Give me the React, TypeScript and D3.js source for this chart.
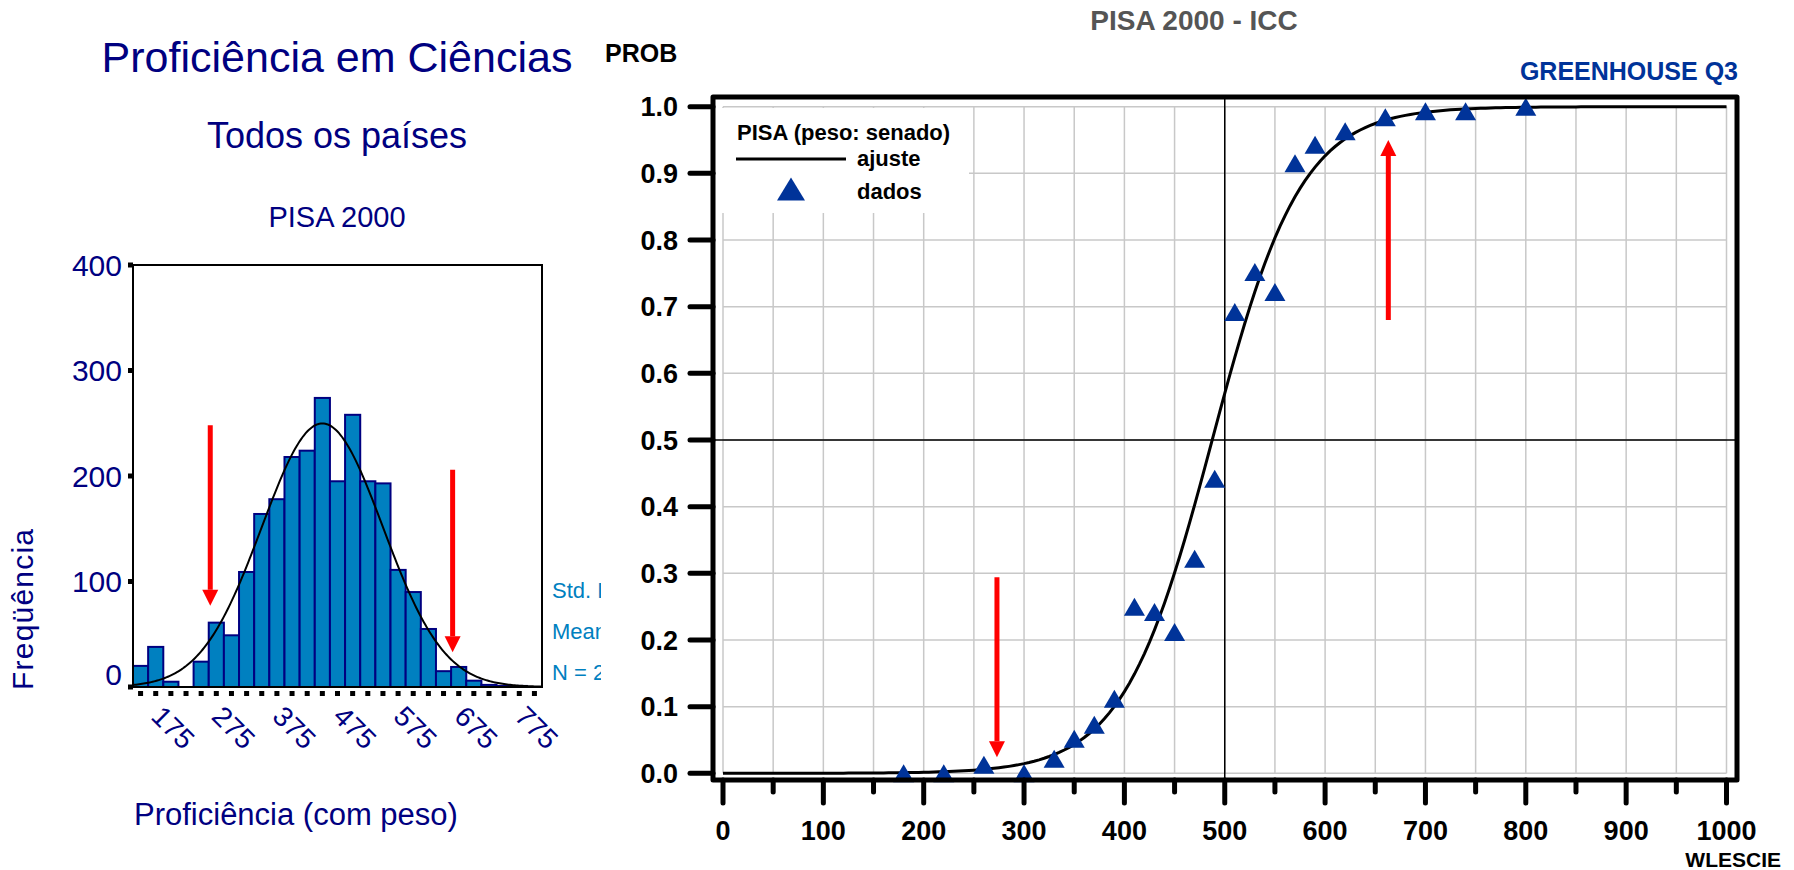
import React from 'react';
import * as d3 from 'd3';

// histograma: proficiência em ciências (todos os países)
const HIST_BINS = [150, 175, 200, 225, 250, 275, 300, 325, 350, 375, 400, 425, 450, 475, 500, 525, 550, 575, 600, 625, 650, 675, 700, 725, 750, 775, 800];
const HIST_COUNTS = [20, 38, 5, 0, 24, 61, 49, 109, 164, 178, 218, 224, 274, 195, 258, 195, 193, 111, 90, 55, 15, 19, 6, 2, 1, 1, 0];
const HIST_Y_TICKS = [0, 100, 200, 300, 400];
const HIST_X_LABELS = [175, 275, 375, 475, 575, 675, 775];
const BIN_WIDTH = 25;
const NORMAL_MEAN = 450;
const NORMAL_SD = 100;
const HIST_ARROWS = [
  {x: 265, from: 248, to: 77},
  {x: 665, from: 206, to: 33}
];
const STATS_LINES = ['Std. Dev', 'Mean', 'N = 2'];

// ICC - greenhouse Q3
const ICC_SCORES = [180, 220, 260, 300, 330, 350, 370, 390, 410, 430, 450, 470, 490, 510, 530, 550, 570, 590, 620, 660, 700, 740, 800];
const ICC_PROBS = [0.0, 0.0, 0.013, 0.0, 0.022, 0.052, 0.073, 0.112, 0.25, 0.242, 0.212, 0.322, 0.442, 0.692, 0.752, 0.722, 0.915, 0.943, 0.963, 0.984, 0.993, 0.993, 1.0];
const ICC_X_TICKS = [0, 100, 200, 300, 400, 500, 600, 700, 800, 900, 1000];
const ICC_Y_TICKS = [0, 0.1, 0.2, 0.3, 0.4, 0.5, 0.6, 0.7, 0.8, 0.9, 1.0];
const ICC_A = 0.0225;
const ICC_B = 487.5;
const ICC_ARROWS = [
  {x: 273, from: 0.294, to: 0.024},
  {x: 663, from: 0.68, to: 0.95}
];

const NAVY = '#000080';
const BAR_BLUE = '#0080c0';
const MARK_BLUE = '#003399';
const FONT = '"Liberation Sans", Arial, sans-serif';

function Arrow({x, y1, y2}: {x: number; y1: number; y2: number}) {
  const dir = y2 > y1 ? 1 : -1;
  const head = 16;
  const base = y2 - dir * head;
  return (
    <g>
      <line x1={x} x2={x} y1={y1} y2={base} stroke="#ff0000" strokeWidth={5} />
      <polygon points={`${x - 8},${base} ${x + 8},${base} ${x},${y2}`} fill="#ff0000" />
    </g>
  );
}

function tri(cx: number, cy: number, w: number, h: number) {
  return `${cx - w / 2},${cy + h / 2} ${cx + w / 2},${cy + h / 2} ${cx},${cy - h / 2}`;
}

function Histogram() {
  const x = d3.scaleLinear().domain([137.5, 812.5]).range([133, 542]);
  const y = d3.scaleLinear().domain([0, 400]).range([687, 265]);
  const total = d3.sum(HIST_COUNTS);
  const normal = d3.range(137.5, 812.6, 2.5).map(v => {
    const z = (v - NORMAL_MEAN) / NORMAL_SD;
    return [v, (total * BIN_WIDTH) / (NORMAL_SD * Math.sqrt(2 * Math.PI)) * Math.exp(-0.5 * z * z)];
  });
  const line = d3.line<number[]>().x(d => x(d[0])).y(d => y(d[1]));

  return (
    <g fontFamily={FONT}>
      <text x={337} y={72} textAnchor="middle" fontSize={43} fill={NAVY}>Proficiência em Ciências</text>
      <text x={337} y={148} textAnchor="middle" fontSize={36} fill={NAVY}>Todos os países</text>
      <text x={337} y={227} textAnchor="middle" fontSize={29} fill={NAVY}>PISA 2000</text>

      {HIST_BINS.map((b, i) => HIST_COUNTS[i] > 0 && (
        <rect key={b} x={x(b - BIN_WIDTH / 2)} y={y(HIST_COUNTS[i])}
          width={x(b + BIN_WIDTH / 2) - x(b - BIN_WIDTH / 2)} height={y(0) - y(HIST_COUNTS[i])}
          fill={BAR_BLUE} stroke={NAVY} strokeWidth={2} />
      ))}
      <path d={line(normal) || ''} fill="none" stroke="#000" strokeWidth={2} />
      <rect x={133} y={265} width={409} height={422} fill="none" stroke="#000" strokeWidth={2} />

      {HIST_Y_TICKS.map(t => (
        <g key={t}>
          <rect x={128} y={y(t) - 2.5} width={5} height={5} fill="#000" />
          <text x={122} y={y(t) + (t === 0 ? -13 : 0)} dy="0.35em" textAnchor="end" fontSize={30} fill={NAVY}>{t}</text>
        </g>
      ))}
      {HIST_BINS.map(b => (
        <rect key={b} x={x(b) - 2.5} y={691} width={5} height={5} fill="#000" />
      ))}
      {HIST_X_LABELS.map(v => (
        <text key={v} transform={`translate(${x(v) - 6},718) rotate(45)`} fontSize={28} fill={NAVY}>{v}</text>
      ))}

      {HIST_ARROWS.map((a, i) => (
        <Arrow key={i} x={x(a.x)} y1={y(a.from)} y2={y(a.to)} />
      ))}

      <text transform="translate(33,690) rotate(-90)" fontSize={30} fill={NAVY} textLength={161} lengthAdjust="spacing">Freqüência</text>
      <text x={134} y={825} fontSize={31} fill={NAVY}>Proficiência (com peso)</text>

      <clipPath id="statsClip"><rect x={540} y={560} width={61} height={140} /></clipPath>
      <g clipPath="url(#statsClip)">
        {STATS_LINES.map((s, i) => (
          <text key={s} x={552} y={598 + i * 41} fontSize={22} fill={BAR_BLUE}>{s}</text>
        ))}
      </g>
    </g>
  );
}

function ICCChart() {
  const x = d3.scaleLinear().domain([0, 1000]).range([723, 1726.5]);
  const y = d3.scaleLinear().domain([0, 1]).range([773.3, 106.7]);
  const curve = d3.range(0, 1001, 5).map(v => [v, 1 / (1 + Math.exp(-ICC_A * (v - ICC_B)))]);
  const line = d3.line<number[]>().x(d => x(d[0])).y(d => y(d[1]));
  const gridX = x.ticks(20);
  const gridY = y.ticks(10);

  return (
    <g fontFamily={FONT} fontWeight="bold">
      <text x={1194} y={30} textAnchor="middle" fontSize={28} fill="#555555">PISA 2000 - ICC</text>
      <text x={605} y={62} fontSize={25} fill="#000">PROB</text>
      <text x={1738} y={80} textAnchor="end" fontSize={25} fill={MARK_BLUE}>GREENHOUSE Q3</text>

      {gridX.map(t => (
        <line key={'gx' + t} x1={x(t)} x2={x(t)} y1={y(1)} y2={y(0)} stroke="#c8c8c8" strokeWidth={1.5} />
      ))}
      {gridY.map(t => (
        <line key={'gy' + t} x1={x(0)} x2={x(1000)} y1={y(t)} y2={y(t)} stroke="#c8c8c8" strokeWidth={1.5} />
      ))}
      <line x1={x(500)} x2={x(500)} y1={99} y2={778} stroke="#000" strokeWidth={1.5} />
      <line x1={715} x2={1735} y1={y(0.5)} y2={y(0.5)} stroke="#000" strokeWidth={1.5} />

      <rect x={716} y={108} width={253} height={105} fill="#fff" />
      <text x={737} y={140} fontSize={22} fill="#000">PISA (peso: senado)</text>
      <line x1={736} x2={846} y1={159} y2={159} stroke="#000" strokeWidth={3} />
      <text x={857} y={166} fontSize={22} fill="#000">ajuste</text>
      <polygon points={tri(791, 189, 28, 23)} fill={MARK_BLUE} />
      <text x={857} y={199} fontSize={22} fill="#000">dados</text>

      <path d={line(curve) || ''} fill="none" stroke="#000" strokeWidth={3} />
      {ICC_SCORES.map((s, i) => (
        <polygon key={s} points={tri(x(s), y(ICC_PROBS[i]), 21, 18)} fill={MARK_BLUE} />
      ))}

      {ICC_ARROWS.map((a, i) => (
        <Arrow key={i} x={x(a.x)} y1={y(a.from)} y2={y(a.to)} />
      ))}

      <path d="M713,97 H1737 V780 H713 Z" fill="none" stroke="#000" strokeWidth={5} strokeLinejoin="round" />

      {ICC_Y_TICKS.map(t => (
        <g key={t}>
          <line x1={690} x2={713} y1={y(t)} y2={y(t)} stroke="#000" strokeWidth={5} strokeLinecap="round" />
          <text x={678} y={y(t)} dy="0.36em" textAnchor="end" fontSize={27} fill="#000">{t.toFixed(1)}</text>
        </g>
      ))}
      {gridX.map(t => (
        <line key={t} x1={x(t)} x2={x(t)} y1={780} y2={t % 100 === 0 ? 803 : 792} stroke="#000" strokeWidth={5} strokeLinecap="round" />
      ))}
      {ICC_X_TICKS.map(t => (
        <text key={t} x={x(t)} y={840} textAnchor="middle" fontSize={27} fill="#000">{t}</text>
      ))}
      <text x={1781} y={867} textAnchor="end" fontSize={21} fill="#000">WLESCIE</text>
    </g>
  );
}

export default function App() {
  return (
    <svg width={1794} height={870} style={{position: 'absolute', left: 0, top: 0, background: '#fff'}}>
      <Histogram />
      <ICCChart />
    </svg>
  );
}
